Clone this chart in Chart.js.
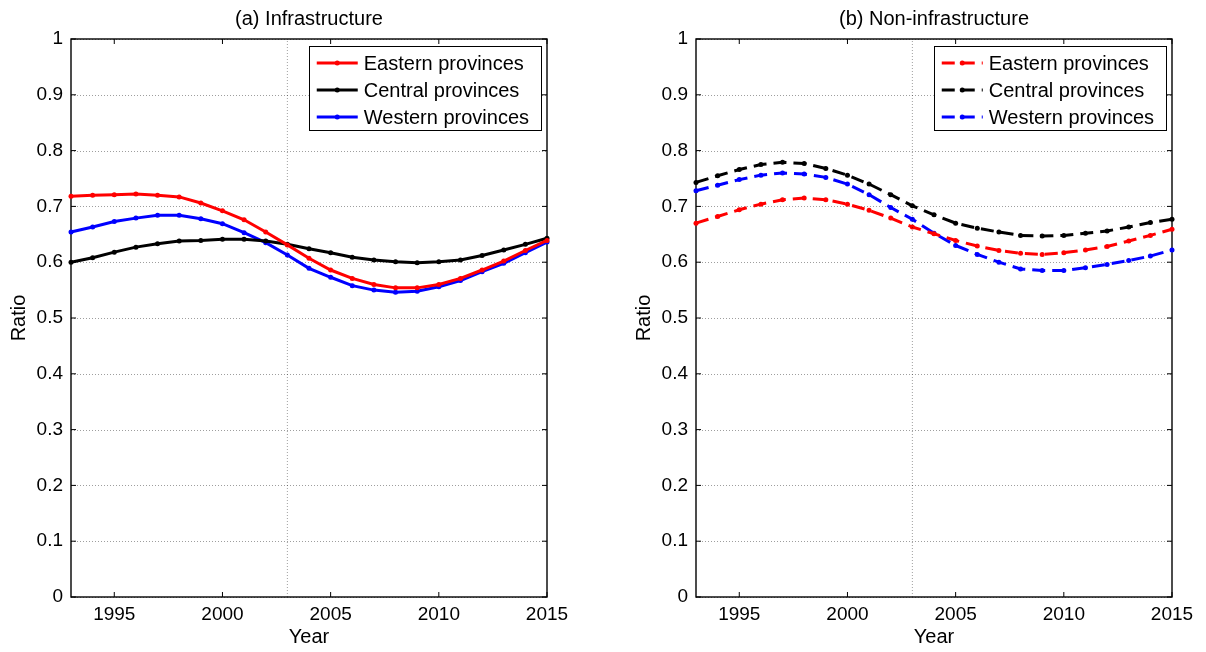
<!DOCTYPE html>
<html>
<head>
<meta charset="utf-8">
<script src="https://cdn.jsdelivr.net/npm/chart.js@4.4.1/dist/chart.umd.min.js"></script>
<style>
  body { margin: 0; background: #fff; }
  #wrap { position: relative; width: 1206px; height: 652px; }
  canvas { position: absolute; top: 0; }
</style>
</head>
<body>
<div id="wrap">
  <canvas id="infra" width="625" height="652" style="left:0"></canvas>
  <canvas id="noninfra" width="581" height="652" style="left:625px"></canvas>
</div>
<script>
const years = [1993, 1994, 1995, 1996, 1997, 1998, 1999, 2000, 2001, 2002, 2003, 2004,
               2005, 2006, 2007, 2008, 2009, 2010, 2011, 2012, 2013, 2014, 2015];

// (a) infrastructure
const easternInfra = [0.718, 0.720, 0.721, 0.722, 0.720, 0.717, 0.706, 0.692, 0.676, 0.654, 0.631, 0.607,
                      0.586, 0.571, 0.560, 0.554, 0.554, 0.560, 0.571, 0.586, 0.602, 0.621, 0.639];
const centralInfra = [0.600, 0.608, 0.618, 0.627, 0.633, 0.638, 0.639, 0.641, 0.641, 0.638, 0.632, 0.624,
                      0.617, 0.609, 0.604, 0.601, 0.599, 0.601, 0.604, 0.612, 0.622, 0.632, 0.643];
const westernInfra = [0.654, 0.663, 0.673, 0.679, 0.684, 0.684, 0.678, 0.669, 0.653, 0.635, 0.613, 0.589,
                      0.573, 0.558, 0.550, 0.546, 0.548, 0.556, 0.567, 0.583, 0.598, 0.617, 0.636];

// (b) non-infrastructure
const easternNon = [0.670, 0.682, 0.694, 0.704, 0.712, 0.715, 0.712, 0.704, 0.693, 0.679, 0.663, 0.651,
                    0.639, 0.629, 0.621, 0.616, 0.614, 0.617, 0.622, 0.628, 0.638, 0.648, 0.659];
const centralNon = [0.743, 0.755, 0.766, 0.775, 0.779, 0.777, 0.768, 0.756, 0.740, 0.721, 0.701, 0.685,
                    0.670, 0.661, 0.654, 0.648, 0.647, 0.648, 0.652, 0.656, 0.663, 0.671, 0.677];
const westernNon = [0.728, 0.738, 0.748, 0.756, 0.760, 0.758, 0.752, 0.740, 0.721, 0.698, 0.677, 0.652,
                    0.630, 0.614, 0.600, 0.588, 0.585, 0.585, 0.590, 0.596, 0.603, 0.611, 0.622];

const seriesNames = ['Eastern provinces', 'Central provinces', 'Western provinces'];
const seriesColors = ['#ff0000', '#000000', '#0000ff'];

const xTicks = [1995, 2000, 2005, 2010, 2015];
const xTickLabels = ['1995', '2000', '2005', '2010', '2015'];
const yTicks = [0, 0.1, 0.2, 0.3, 0.4, 0.5, 0.6, 0.7, 0.8, 0.9, 1];
const yTickLabels = ['0', '0.1', '0.2', '0.3', '0.4', '0.5', '0.6', '0.7', '0.8', '0.9', '1'];
const splitYear = 2003;

const FONT = "'Liberation Sans', Arial, sans-serif";
Chart.defaults.font.family = FONT;
Chart.defaults.color = '#000';

const DASH = [13, 7];
const DOTTED = 'rgba(0,0,0,0.38)';

// matlab-ish axes: dotted y grid, box, inward ticks, title and legend box
const matlabPlugin = {
    id: 'matlab',
    beforeDatasetsDraw(chart, args, opts) {
        const { ctx, chartArea: a, scales: { x, y } } = chart;
        ctx.save();
        // dotted horizontal grid
        ctx.strokeStyle = DOTTED;
        ctx.lineWidth = 1;
        ctx.setLineDash([1, 2]);
        yTicks.forEach(v => {
            const py = Math.round(y.getPixelForValue(v)) + 0.5;
            ctx.beginPath();
            ctx.moveTo(a.left, py);
            ctx.lineTo(a.right, py);
            ctx.stroke();
        });
        ctx.setLineDash([]);

        // box
        ctx.strokeStyle = '#000';
        ctx.lineWidth = 1.4;
        ctx.strokeRect(a.left, a.top, a.right - a.left, a.bottom - a.top);

        // inward ticks
        const tl = 5;
        ctx.lineWidth = 1;
        ctx.beginPath();
        yTicks.forEach(v => {
            const py = y.getPixelForValue(v);
            ctx.moveTo(a.left, py); ctx.lineTo(a.left + tl, py);
            ctx.moveTo(a.right, py); ctx.lineTo(a.right - tl, py);
        });
        xTicks.forEach(v => {
            const px = x.getPixelForValue(v);
            ctx.moveTo(px, a.bottom); ctx.lineTo(px, a.bottom - tl);
            ctx.moveTo(px, a.top); ctx.lineTo(px, a.top + tl);
        });
        ctx.stroke();
        ctx.restore();
    },
    afterDraw(chart, args, opts) {
        const { ctx, chartArea: a } = chart;
        ctx.save();

        // title
        ctx.font = '20px ' + FONT;
        ctx.fillStyle = '#000';
        ctx.textAlign = 'center';
        ctx.textBaseline = 'middle';
        ctx.fillText(opts.title, (a.left + a.right) / 2, 19);

        // legend
        const items = chart.data.datasets.filter(d => d.label);
        ctx.font = '20px ' + FONT;
        const textW = Math.max(...items.map(d => ctx.measureText(d.label).width));
        const boxW = 8 + 41 + 6 + textW + 12;
        const boxH = 84;
        const bx = a.right - 6 - boxW;
        const by = a.top + 7;
        ctx.fillStyle = '#fff';
        ctx.fillRect(bx, by, boxW, boxH);
        ctx.strokeStyle = '#000';
        ctx.lineWidth = 1;
        ctx.strokeRect(Math.round(bx) + 0.5, Math.round(by) + 0.5, Math.round(boxW), boxH);

        items.forEach((d, i) => {
            const ry = by + 17 + i * 27;
            const lx = bx + 8;
            ctx.strokeStyle = d.borderColor;
            ctx.lineWidth = 3;
            ctx.setLineDash(opts.dashed ? DASH : []);
            ctx.beginPath();
            ctx.moveTo(lx, ry);
            ctx.lineTo(lx + 41, ry);
            ctx.stroke();
            ctx.setLineDash([]);
            ctx.fillStyle = d.borderColor;
            ctx.beginPath();
            ctx.arc(lx + 20.5, ry, 2.5, 0, Math.PI * 2);
            ctx.fill();
            ctx.fillStyle = '#000';
            ctx.textAlign = 'left';
            ctx.textBaseline = 'middle';
            ctx.fillText(d.label, lx + 47, ry + 1);
        });
        ctx.restore();
    }
};

const makeSeries = (values, i, dashed) => ({
    label: seriesNames[i],
    data: years.map((yr, k) => ({ x: yr, y: values[k] })),
    borderColor: seriesColors[i],
    backgroundColor: seriesColors[i],
    borderWidth: 3,
    borderDash: dashed ? DASH : [],
    pointRadius: 2.5,
    pointBorderWidth: 0,
    pointBackgroundColor: seriesColors[i],
    tension: 0,
    clip: 5
});

const makeChart = (canvasId, title, series, dashed, rightPad) => {
    const datasets = [
        {
            // vertical dotted marker at the split year
            data: [{ x: splitYear, y: 0 }, { x: splitYear, y: 1 }],
            borderColor: DOTTED,
            borderWidth: 1,
            borderDash: [1, 2],
            pointRadius: 0,
            tension: 0
        },
        ...series.map((s, i) => makeSeries(s, i, dashed))
    ];

    return new Chart(document.getElementById(canvasId), {
        type: 'line',
        data: { datasets },
        options: {
            responsive: false,
            animation: false,
            events: [],
            layout: { padding: { left: 0, right: rightPad, top: 39, bottom: 0 } },
            plugins: {
                legend: { display: false },
                title: { display: false },
                tooltip: { enabled: false },
                matlab: { title, dashed }
            },
            scales: {
                x: {
                    type: 'linear',
                    min: 1993,
                    max: 2015,
                    grid: { display: false, drawTicks: false },
                    border: { display: false },
                    afterBuildTicks: (scale) => { scale.ticks = xTicks.map(v => ({ value: v })); },
                    afterFit: (scale) => { scale.height = 55; },
                    ticks: {
                        font: { size: 19 },
                        padding: 6,
                        maxRotation: 0,
                        autoSkip: false,
                        callback: (v, i) => xTickLabels[i]
                    },
                    title: { display: true, text: 'Year', font: { size: 20 }, padding: { top: 0, bottom: 3 } }
                },
                y: {
                    min: 0,
                    max: 1,
                    grid: { display: false, drawTicks: false },
                    border: { display: false },
                    afterBuildTicks: (scale) => { scale.ticks = yTicks.map(v => ({ value: v })); },
                    afterFit: (scale) => { scale.width = 71; },
                    ticks: {
                        font: { size: 19 },
                        padding: 8,
                        autoSkip: false,
                        callback: (v, i) => yTickLabels[i]
                    },
                    title: { display: true, text: 'Ratio', font: { size: 20 }, padding: { top: 7, bottom: 0 } }
                }
            }
        },
        plugins: [matlabPlugin]
    });
};

makeChart('infra', '(a) Infrastructure', [easternInfra, centralInfra, westernInfra], false, 78);
makeChart('noninfra', '(b) Non-infrastructure', [easternNon, centralNon, westernNon], true, 34);
</script>
</body>
</html>
